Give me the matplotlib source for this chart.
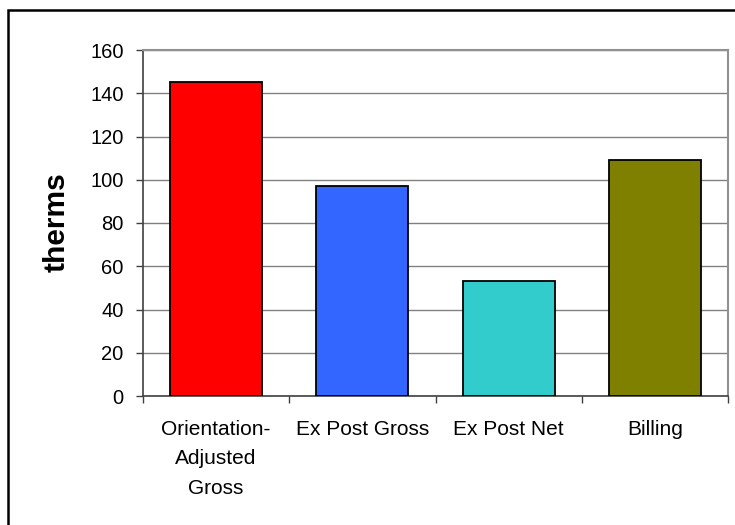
import matplotlib
matplotlib.use("Agg")
import matplotlib.pyplot as plt
from matplotlib.patches import Rectangle
import numpy as np

categories = ["Orientation-\nAdjusted\nGross", "Ex Post Gross", "Ex Post Net", "Billing"]
values = [145, 97, 53, 109]
colors = ["#FF0000", "#3366FF", "#33CCCC", "#808000"]
y_ticks = [0, 20, 40, 60, 80, 100, 120, 140, 160]
y_label = "therms"

plt.rcParams['font.family'] = ['Liberation Sans', 'DejaVu Sans']

fig = plt.figure(figsize=(7.35, 5.25), dpi=100)
ax = fig.add_axes([143/735, 1-396/525, (728-143)/735, (396-50)/525])

x = np.arange(len(categories))
ax.bar(x, values, width=0.63, color=colors, edgecolor="black", linewidth=1.3, zorder=3)

ax.set_xlim(-0.5, len(categories)-0.5)
ax.set_ylim(0, 160)
ax.set_yticks(y_ticks)
ax.set_yticklabels([str(v) for v in y_ticks], fontsize=14.5)
ax.yaxis.grid(True, color="#808080", linewidth=1.0, zorder=0)
ax.set_axisbelow(True)

ax.set_xticks(x)
ax.set_xticklabels(categories, fontsize=15, linespacing=1.72, va="top")
ax.set_xticks(np.arange(-0.5, len(categories), 1.0), minor=True)
ax.tick_params(axis="x", which="major", length=0, pad=17)
ax.tick_params(axis="x", which="minor", length=5, width=1, color="#404040", direction="out")
ax.tick_params(axis="y", length=5, width=1, color="#404040", direction="out", pad=9)

for s in ["left", "bottom"]:
    ax.spines[s].set_color("#404040")
    ax.spines[s].set_linewidth(1.2)
for s in ["right", "top"]:
    ax.spines[s].set_color("#909090")
    ax.spines[s].set_linewidth(1.5)

fig.text(57/735, 1-222/525, y_label, rotation=90, ha="center", va="center",
         fontsize=21.5, fontweight="bold")

border = Rectangle((8/735, -0.1), 1.2, 1-10/525+0.1, transform=fig.transFigure,
                   fill=False, edgecolor="black", linewidth=1.8, clip_on=False)
fig.patches.append(border)

fig.savefig("out.png", dpi=100)
